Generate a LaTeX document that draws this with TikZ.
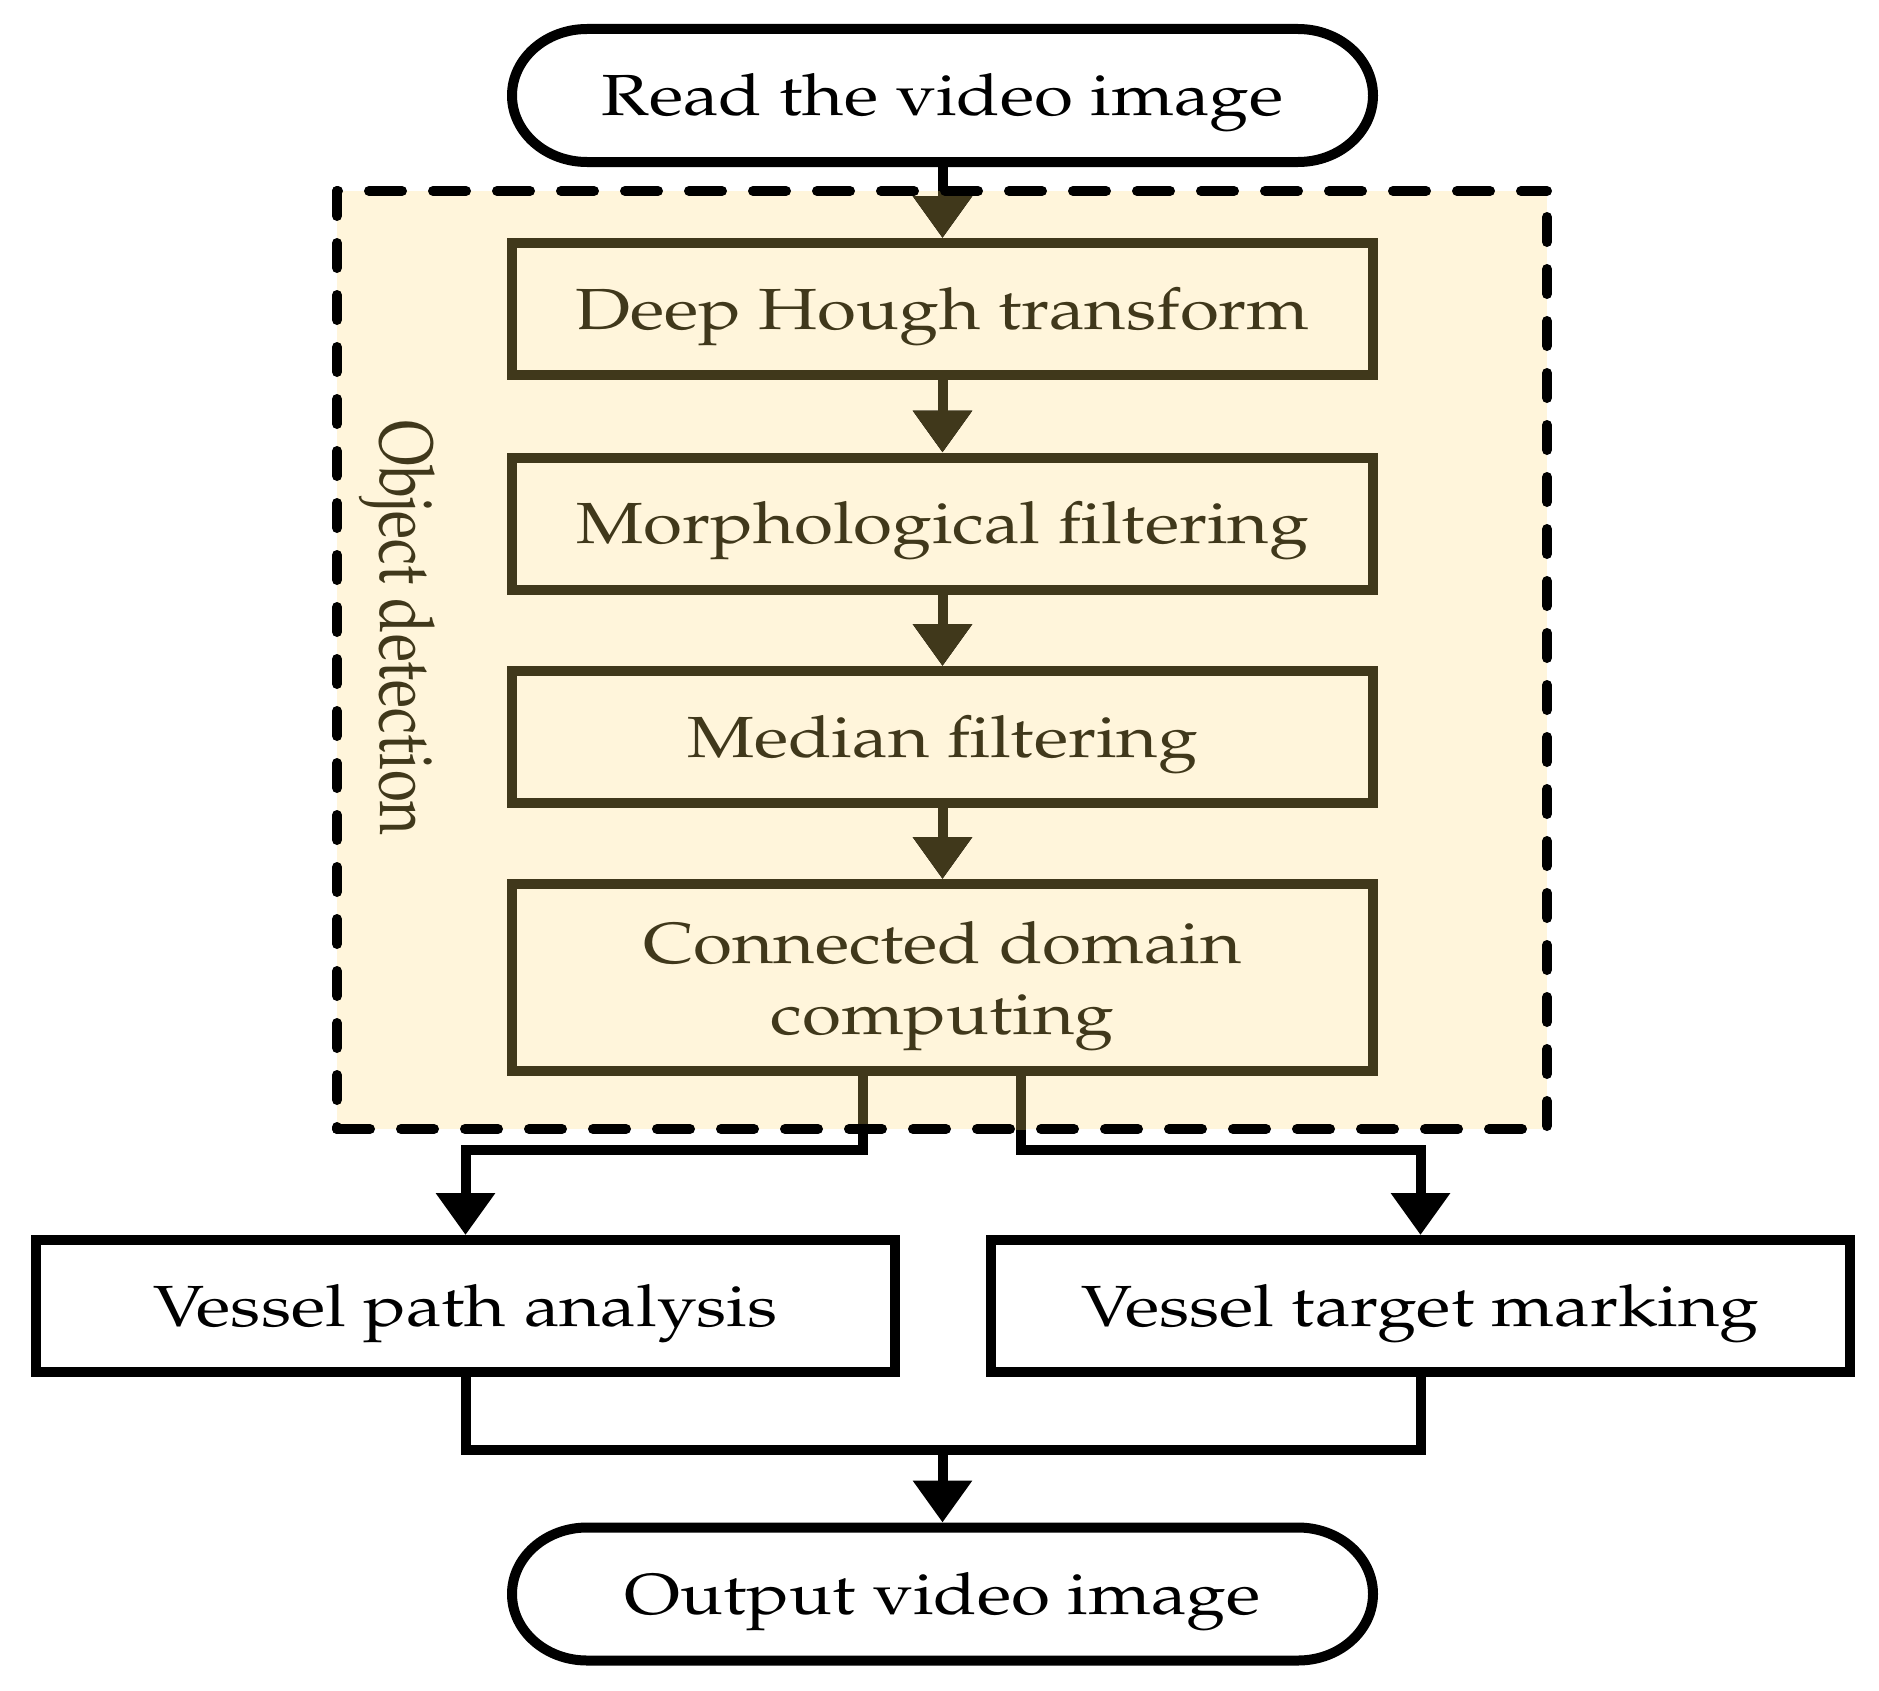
\documentclass[tikz,border=0pt]{standalone}
\usepackage[T1]{fontenc}
\renewcommand{\rmdefault}{ppl}
\usepackage{graphicx}
\usetikzlibrary{arrows.meta}
\definecolor{olv}{RGB}{64,56,27}
\definecolor{cream}{RGB}{255,245,219}
\newcommand{\widetxt}[1]{\scalebox{1.225}[1]{#1}}
\begin{document}
\begin{tikzpicture}[x=1pt,y=-1pt,
  every node/.style={font=\fontsize{58}{74}\selectfont},
  box/.style={draw, rectangle, line width=10pt, inner sep=0pt, text height=40pt, text depth=0pt},
  inbox/.style={box, draw=olv, text=olv, minimum width=861pt, minimum height=132pt},
  outbox/.style={box, draw=black, fill=white, minimum width=859pt, minimum height=132pt},
  term/.style={rectangle, inner sep=0pt, outer sep=5pt, minimum width=861pt, minimum height=133pt, text height=40pt, text depth=0pt},
  link/.style={line width=10pt},
  conn/.style={link, -{Triangle[width=57pt,length=42pt]}},
  dashh/.style={line width=10pt, line cap=round, dash pattern=on 33pt off 31pt},
  dashv/.style={line width=10pt, line cap=round, dash pattern=on 25pt off 27pt},
  intext/.style={text=olv, inner sep=0pt}
]
\useasboundingbox (0,0) rectangle (1879,1691);
\fill[white] (0,0) rectangle (1879,1691);
% object detection region
\fill[cream] (337,191) rectangle (1547,1129);

% terminals
\node[term] (top) at (942.5,95.5) {\widetxt{Read the video image}};
\draw[link] ([shift={(-355.5pt,66.5pt)}]top.center) -- ([shift={(355.5pt,66.5pt)}]top.center)
  arc[start angle=90,end angle=-90,x radius=75pt,y radius=66.5pt]
  -- ([shift={(-355.5pt,-66.5pt)}]top.center)
  arc[start angle=270,end angle=90,x radius=75pt,y radius=66.5pt] -- cycle;

\node[term] (bottom) at (942.5,1594) {\widetxt{Output video image}};
\draw[link] ([shift={(-355.5pt,66.5pt)}]bottom.center) -- ([shift={(355.5pt,66.5pt)}]bottom.center)
  arc[start angle=90,end angle=-90,x radius=75pt,y radius=66.5pt]
  -- ([shift={(-355.5pt,-66.5pt)}]bottom.center)
  arc[start angle=270,end angle=90,x radius=75pt,y radius=66.5pt] -- cycle;

% inner steps
\node[inbox] (deep) at (942.5,309) {\widetxt{Deep Hough transform}};
\node[inbox] (morph) at (942.5,523.5) {\widetxt{Morphological filtering}};
\node[inbox] (median) at (942.5,737) {\widetxt{Median filtering}};
\node[inbox, minimum height=187pt] (conn) at (942.5,977.5) {};
\node[intext, anchor=base] (conntexta) at (942.5,963) {\widetxt{Connected domain}};
\node[intext, anchor=base] (conntextb) at (942.5,1034) {\widetxt{computing}};

% outputs
\node[outbox] (path) at (465.5,1306) {\widetxt{Vessel path analysis}};
\node[outbox] (target) at (1420.5,1306) {\widetxt{Vessel target marking}};

% label
\begin{scope}[shift={(406,628)}, xscale=1.3]
\node[rotate=-90, transform shape, text=olv, inner sep=0pt, text height=40pt, text depth=0pt] (objdet) at (0,0) {Object detection};
\end{scope}

% connectors
\coordinate (split) at (942.5,1150);
\coordinate (merge) at (942.5,1450);
\draw[conn] (top) -- (deep);
\draw[conn] (deep) -- (morph);
\draw[conn] (morph) -- (median);
\draw[conn] (median) -- (conn);
\draw[conn] ([xshift=-79.5pt]conn.south) coordinate (cl) -- (cl |- split) -| (path.north);
\draw[conn] ([xshift=78.5pt]conn.south) coordinate (cr) -- (cr |- split) -| (target.north);
\draw[link] (path.south) |- (merge) -| (target.south);
\draw[conn] (merge) -- (bottom);

% olive parts inside the region
\begin{scope}
\clip (337,191) rectangle (1547,1129);
\draw[conn, olv] (top) -- (deep);
\draw[conn, olv] (deep) -- (morph);
\draw[conn, olv] (morph) -- (median);
\draw[conn, olv] (median) -- (conn);
\draw[link, olv] (cl) -- (cl |- split);
\draw[link, olv] (cr) -- (cr |- split);
\end{scope}

% dashed border
\draw[dashh, dash phase=32pt] (337,191) -- (1547,191);
\draw[dashh] (337,1129) -- (1547,1129);
\draw[dashv] (337,191) -- (337,1129);
\draw[dashv, dash phase=26pt] (1547,191) -- (1547,1129);
\end{tikzpicture}
\end{document}
